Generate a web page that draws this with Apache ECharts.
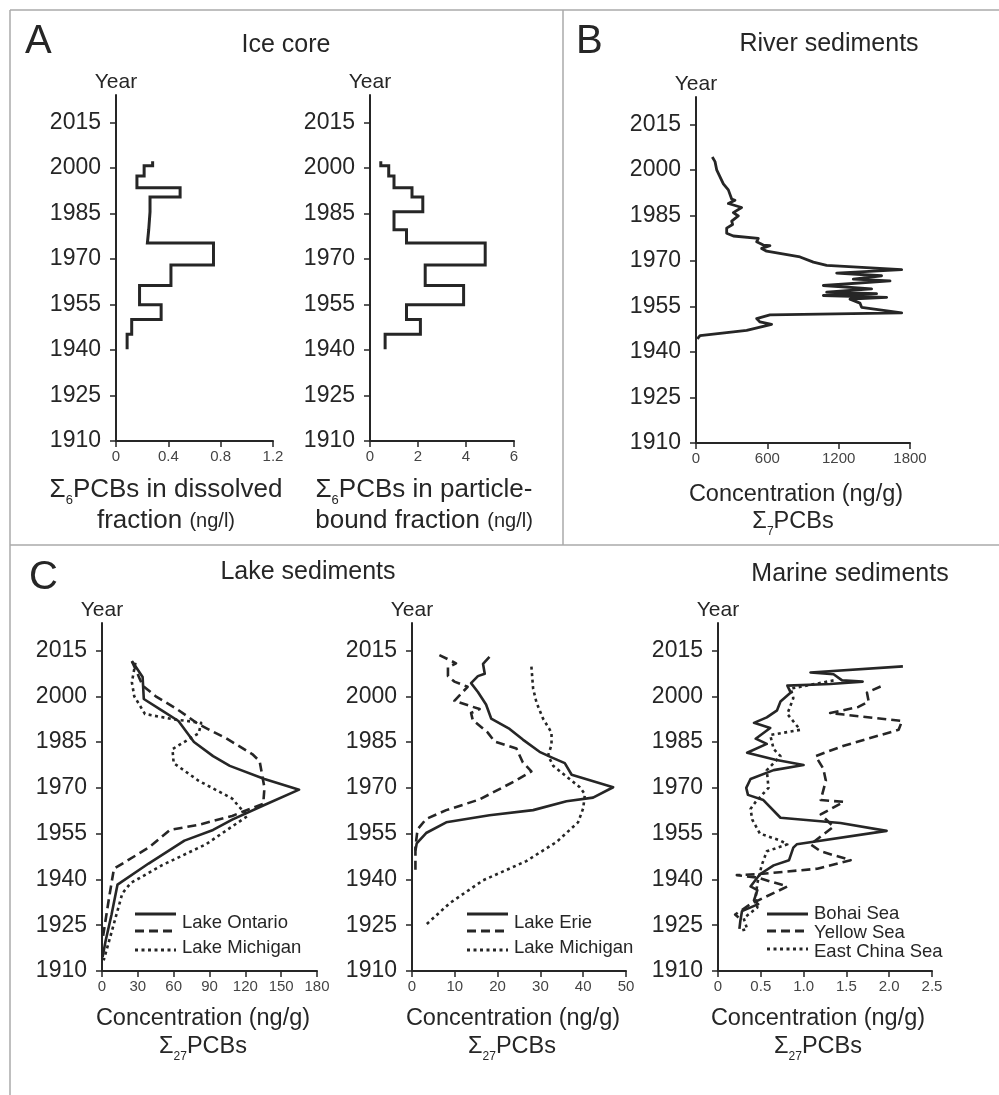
<!DOCTYPE html>
<html>
<head>
<meta charset="utf-8">
<script src="https://cdn.jsdelivr.net/npm/echarts@6/dist/echarts.min.js"></script>
<style>
  html, body { margin: 0; padding: 0; background: #fff; }
  #main { width: 999px; height: 1095px; }
</style>
</head>
<body>
<div id="main"></div>
<script>
// ---- data ----
var yearTicks = [1910, 1925, 1940, 1955, 1970, 1985, 2000, 2015];

// A: ice core, sample boundaries (top -> bottom) and value per interval
var iceBounds = [2002.2, 2000.7, 1997.3, 1993.4, 1990.4, 1985.5, 1979.6, 1975.2, 1968, 1961.2, 1954.9, 1950, 1945.2, 1940.2];
var iceDissolved = [0.28, 0.215, 0.16, 0.49, 0.26, 0.25, 0.24, 0.745, 0.42, 0.18, 0.345, 0.12, 0.085];
var iceParticle = [0.45, 0.78, 1.0, 1.75, 2.2, 1.0, 1.52, 4.8, 2.3, 3.9, 1.52, 2.1, 0.63];

// B: river sediments
var riverYear = [2004.2, 2002.7, 2000, 1997.7, 1995.4, 1993.4, 1990.4, 1990, 1988.9, 1987.6, 1985.9, 1984.8, 1983.1, 1982, 1980.8, 1979.1, 1978.2, 1977.4, 1976.3, 1975.2, 1975, 1974.1, 1973.2, 1971.3, 1969.6, 1968.5, 1967.1, 1966, 1965.1, 1964, 1963.4, 1961.9, 1960.8, 1960.2, 1959.7, 1959.2, 1958.6, 1958, 1957.4, 1956.1, 1954.7, 1952.9, 1952.2, 1951, 1949.9, 1949.1, 1947.1, 1945.4, 1944.3];
var riverConc = [137, 160, 174, 202, 230, 272, 300, 328, 272, 384, 314, 356, 300, 308, 258, 258, 314, 524, 510, 566, 622, 552, 594, 875, 987, 1099, 1730, 1183, 1561, 1323, 1632, 1071, 1477, 1267, 1099, 1519, 1071, 1604, 1295, 1379, 1393, 1730, 622, 510, 538, 636, 426, 34, 11];

// C: lake sediments (Ontario plot)
var ontarioYear = [2011.5, 2009.8, 2006.3, 1999.1, 1995.4, 1991.9, 1985, 1980.4, 1977.2, 1972.9, 1969.4, 1964.2, 1959.6, 1956.2, 1952.7, 1945.2, 1938.3, 1928.5, 1919.8, 1914.6];
var ontarioConc = [25, 28, 34, 35, 50, 64, 77, 93, 107, 136, 165, 135, 109, 93, 69, 39, 13, 8, 3, 0.5];
var ontario2Year = [2011.5, 2008.1, 2003.5, 2000, 1996, 1990.8, 1986.2, 1981, 1978.7, 1970, 1964.8, 1960.8, 1957.9, 1956.2, 1950.4, 1943.5, 1934.2, 1920.4];
var ontario2Conc = [25, 29, 34, 45, 62, 81, 104, 126, 132, 136, 135, 109, 81, 57, 39, 10, 6, 0.5];
var michiganAYear = [2011, 2004.6, 2000, 1994.2, 1992.5, 1991.3, 1987.9, 1982.7, 1978.1, 1972.3, 1966.5, 1963.7, 1960.8, 1951.5, 1944.6, 1938.8, 1935.4, 1922.7, 1913.5];
var michiganAConc = [28, 25, 27, 36, 59, 83, 81, 59, 60, 81, 109, 115, 122, 87, 50, 24, 17, 8, 1.4];

// C: lake sediments (Erie plot)
var erieYear = [2012.9, 2010.6, 2007.4, 2006.6, 2004.3, 2001.4, 1997.3, 1992.7, 1989.3, 1985.8, 1981.8, 1980, 1978.1, 1974.3, 1970.2, 1966.8, 1965.6, 1962.7, 1961, 1958.7, 1955.2, 1951.8, 1949.5];
var erieConc = [18.1, 16.6, 17, 15.4, 13.8, 15.4, 17.3, 18.5, 22.8, 25.9, 29.8, 32.6, 35.7, 37.3, 47, 42.3, 36.1, 28.3, 18.1, 8, 3.3, 1.1, 0.8];
var erie2Year = [2013.5, 2010.8, 2009.5, 2006.6, 2004.8, 2003.1, 1998.5, 1995.8, 1994.5, 1992.2, 1988.1, 1985.2, 1982.9, 1978.3, 1975.4, 1972.5, 1966.2, 1962.7, 1959.8, 1956.4, 1950.6, 1942.5];
var erie2Conc = [6.4, 10.3, 8.4, 8.4, 9.9, 13, 9.9, 15.8, 13.8, 14.2, 17.7, 19.3, 24.4, 25.9, 27.9, 24.4, 15.8, 8, 3.3, 1.3, 0.8, 0.8];
var michiganBYear = [2009.7, 2002.5, 1997.9, 1992.7, 1988.1, 1984.1, 1980.6, 1977.2, 1970.2, 1967.9, 1963.3, 1958.7, 1952.3, 1946, 1939.7, 1932.2, 1925.2];
var michiganBConc = [27.9, 28.3, 29.1, 30.6, 32.6, 32.6, 31.8, 33, 39.2, 40.4, 40, 38.8, 33.8, 26.7, 16.6, 8.8, 3.3];

// C: marine sediments
var bohaiYear = [2009.8, 2007.8, 2007.2, 2005.2, 2004.8, 2004, 2003.5, 2001.2, 1998.3, 1995.4, 1993.1, 1991.3, 1989.6, 1986.1, 1984.4, 1981.5, 1979.2, 1978.7, 1977.5, 1975.8, 1972.9, 1970, 1967.7, 1966, 1960.2, 1958.5, 1955.9, 1951.5, 1950.4, 1946.3, 1944.6, 1941.7, 1937.7, 1936.5, 1933.1, 1931.9, 1929.6, 1926.2, 1923.8];
var bohaiConc = [2.16, 1.08, 1.35, 1.45, 1.69, 1.31, 0.81, 0.85, 0.73, 0.69, 0.57, 0.42, 0.61, 0.44, 0.57, 0.34, 0.67, 0.65, 1.0, 0.65, 0.38, 0.33, 0.35, 0.53, 0.73, 1.43, 1.97, 0.92, 0.88, 0.83, 0.65, 0.49, 0.38, 0.46, 0.42, 0.47, 0.28, 0.26, 0.25];
var yellowYear = [2003.2, 2001.2, 1998.3, 1996.5, 1994.5, 1994, 1991.9, 1989, 1983.8, 1980.4, 1976.3, 1972.3, 1966, 1965.4, 1961.3, 1957.3, 1951.5, 1949.2, 1946.3, 1943.5, 1941.7, 1941.4, 1940.6, 1937.7, 1931.9, 1928.5, 1927.5];
var yellowConc = [1.9, 1.74, 1.76, 1.64, 1.31, 1.47, 2.15, 2.11, 1.47, 1.14, 1.23, 1.26, 1.2, 1.47, 1.2, 1.35, 1.08, 1.2, 1.55, 1.16, 0.46, 0.22, 0.46, 0.81, 0.38, 0.2, 0.24];
var ecsYear = [2005.2, 2002.5, 1999.4, 1994.2, 1989, 1987.3, 1982.7, 1980.4, 1975.8, 1970, 1965.4, 1963.1, 1959.6, 1955, 1952.7, 1951.5, 1949.2, 1944.6, 1938.8, 1934.2, 1930.8, 1927.3, 1923.8, 1923.2];
var ecsConc = [1.35, 0.85, 0.88, 0.81, 0.96, 0.61, 0.65, 0.73, 0.57, 0.59, 0.44, 0.38, 0.4, 0.49, 0.73, 0.81, 0.57, 0.51, 0.46, 0.44, 0.46, 0.3, 0.34, 0.26];

// ---- styling ----
var INK = '#262626';
var FONT = '"Liberation Sans", Arial, sans-serif';
var DASH = [9, 5];
var DOT = [3, 3.5];

function zip(xs, ys) {
  return xs.map(function (x, i) { return [x, ys[i]]; });
}
// step profile: value constant between consecutive boundaries
function steps(bounds, vals) {
  var out = [];
  vals.forEach(function (v, i) {
    out.push([v, bounds[i]]);
    out.push([v, bounds[i + 1]]);
  });
  return out;
}

function plain(v) { return String(v); }

function yearAxis(gi) {
  return {
    type: 'value', gridIndex: gi, min: 1910, max: 2024,
    name: 'Year', nameLocation: 'end', nameGap: 2,
    nameTextStyle: { fontSize: 21, color: INK, fontFamily: FONT },
    axisLine: { show: true, lineStyle: { color: INK, width: 2 } },
    axisTick: { show: true, length: 6, customValues: yearTicks, lineStyle: { color: INK, width: 1.5 } },
    axisLabel: { customValues: yearTicks, fontSize: 23, color: INK, margin: 15, fontFamily: FONT, formatter: plain },
    splitLine: { show: false }
  };
}

function concAxis(gi, max, interval, fmt) {
  return {
    type: 'value', gridIndex: gi, min: 0, max: max, interval: interval,
    axisLine: { show: true, onZero: false, lineStyle: { color: INK, width: 2 } },
    axisTick: { show: true, length: 6, lineStyle: { color: INK, width: 1.5 } },
    axisLabel: { fontSize: 15, color: '#444', margin: 8, fontFamily: FONT, formatter: fmt || plain },
    splitLine: { show: false }
  };
}

function line(name, gi, data, dash, width, join) {
  return {
    name: name, type: 'line', xAxisIndex: gi, yAxisIndex: gi,
    data: data, symbol: 'none', silent: true, clip: false,
    lineStyle: { color: INK, width: width, type: dash || 'solid', cap: 'butt', join: join || 'round' }
  };
}

function txt(x, y, text, size, align, extra) {
  var st = {
    text: text, fontSize: size, fontFamily: FONT, fill: INK,
    align: align || 'center', verticalAlign: 'middle',
    textAlign: align || 'center', textVerticalAlign: 'middle'
  };
  if (extra) st.rich = extra;
  return { type: 'text', x: x, y: y, silent: true, style: st };
}

function seg(x1, y1, x2, y2, color, w, dash) {
  return {
    type: 'line', silent: true,
    shape: { x1: x1, y1: y1, x2: x2, y2: y2 },
    style: { stroke: color, lineWidth: w, lineDash: dash || null }
  };
}

// rich styles for axis titles with subscripts
function richFor(size, subSize, smallSize) {
  return {
    b: { fontSize: size, fontFamily: FONT, color: INK },
    s: { fontSize: subSize, fontFamily: FONT, color: INK, verticalAlign: 'bottom', padding: [0, 0, -4, 0] },
    m: { fontSize: smallSize, fontFamily: FONT, color: INK }
  };
}

function legend(x, ys, labels, labelYs) {
  var els = [];
  var dashes = [null, DASH, DOT];
  ys.forEach(function (y, i) {
    els.push(seg(x, y, x + 41, y, INK, 3, dashes[i]));
  });
  labels.forEach(function (t, i) {
    els.push(txt(x + 47, labelYs[i], t, 18.5, 'left'));
  });
  return els;
}

var chart = echarts.init(document.getElementById('main'), null, { renderer: 'canvas' });

var graphics = [
  // panel frame
  seg(10, 10, 999, 10, '#aaa', 1.5),
  seg(10, 10, 10, 1095, '#aaa', 1.5),
  seg(563, 10, 563, 545, '#aaa', 1.5),
  seg(10, 545, 999, 545, '#aaa', 1.5),
  // panel letters and titles
  txt(25, 42, 'A', 40, 'left'),
  txt(576, 42, 'B', 40, 'left'),
  txt(29, 578, 'C', 40, 'left'),
  txt(286, 45, 'Ice core', 25),
  txt(829, 44, 'River sediments', 25),
  txt(308, 572, 'Lake sediments', 25),
  txt(850, 574, 'Marine sediments', 25),
  // x-axis titles
  txt(166, 490, '{b|Σ}{s|6}{b|PCBs in dissolved}', 26, 'center', richFor(26, 13, 20)),
  txt(166, 521, '{b|fraction }{m|(ng/l)}', 26, 'center', richFor(26, 13, 20)),
  txt(424, 490, '{b|Σ}{s|6}{b|PCBs in particle-}', 26, 'center', richFor(26, 13, 20)),
  txt(424, 521, '{b|bound fraction }{m|(ng/l)}', 26, 'center', richFor(26, 13, 20)),
  txt(796, 495, 'Concentration (ng/g)', 23.5),
  txt(793, 522, '{b|Σ}{s|7}{b|PCBs}', 23.5, 'center', richFor(23.5, 12, 20)),
  txt(203, 1019, 'Concentration (ng/g)', 23.5),
  txt(203, 1047, '{b|Σ}{s|27}{b|PCBs}', 23.5, 'center', richFor(23.5, 12, 20)),
  txt(513, 1019, 'Concentration (ng/g)', 23.5),
  txt(512, 1047, '{b|Σ}{s|27}{b|PCBs}', 23.5, 'center', richFor(23.5, 12, 20)),
  txt(818, 1019, 'Concentration (ng/g)', 23.5),
  txt(818, 1047, '{b|Σ}{s|27}{b|PCBs}', 23.5, 'center', richFor(23.5, 12, 20))
]
  .concat(legend(135, [914, 931, 950], ['Lake Ontario', 'Lake Michigan'], [923, 948]))
  .concat(legend(467, [914, 931, 950], ['Lake Erie', 'Lake Michigan'], [923, 948]))
  .concat(legend(767, [914, 931, 949], ['Bohai Sea', 'Yellow Sea', 'East China Sea'], [914, 933, 952]));

var option = {
  backgroundColor: '#fff',
  animation: false,
  textStyle: { fontFamily: FONT },
  grid: [
    { left: 116, top: 95, width: 157, height: 346 },
    { left: 370, top: 95, width: 144, height: 346 },
    { left: 696, top: 97, width: 214, height: 346 },
    { left: 102, top: 623, width: 215, height: 348 },
    { left: 412, top: 623, width: 214, height: 348 },
    { left: 718, top: 623, width: 214, height: 348 }
  ],
  xAxis: [
    concAxis(0, 1.2, 0.4),
    concAxis(1, 6, 2),
    concAxis(2, 1800, 600),
    concAxis(3, 180, 30),
    concAxis(4, 50, 10),
    concAxis(5, 2.5, 0.5, function (v) { return v === 0 ? '0' : v.toFixed(1); })
  ],
  yAxis: [yearAxis(0), yearAxis(1), yearAxis(2), yearAxis(3), yearAxis(4), yearAxis(5)],
  series: [
    line('Dissolved', 0, steps(iceBounds, iceDissolved), null, 3, 'miter'),
    line('Particle-bound', 1, steps(iceBounds, iceParticle), null, 3, 'miter'),
    line('River', 2, zip(riverConc, riverYear), null, 2.8),
    line('Lake Ontario', 3, zip(ontarioConc, ontarioYear), null, 2.6),
    line('Lake Ontario 2', 3, zip(ontario2Conc, ontario2Year), DASH, 2.6),
    line('Lake Michigan', 3, zip(michiganAConc, michiganAYear), DOT, 2.6),
    line('Lake Erie', 4, zip(erieConc, erieYear), null, 2.6),
    line('Lake Erie 2', 4, zip(erie2Conc, erie2Year), DASH, 2.6),
    line('Lake Michigan', 4, zip(michiganBConc, michiganBYear), DOT, 2.6),
    line('Bohai Sea', 5, zip(bohaiConc, bohaiYear), null, 2.6),
    line('Yellow Sea', 5, zip(yellowConc, yellowYear), DASH, 2.6),
    line('East China Sea', 5, zip(ecsConc, ecsYear), DOT, 2.6)
  ],
  graphic: graphics
};

chart.setOption(option);
</script>
</body>
</html>
